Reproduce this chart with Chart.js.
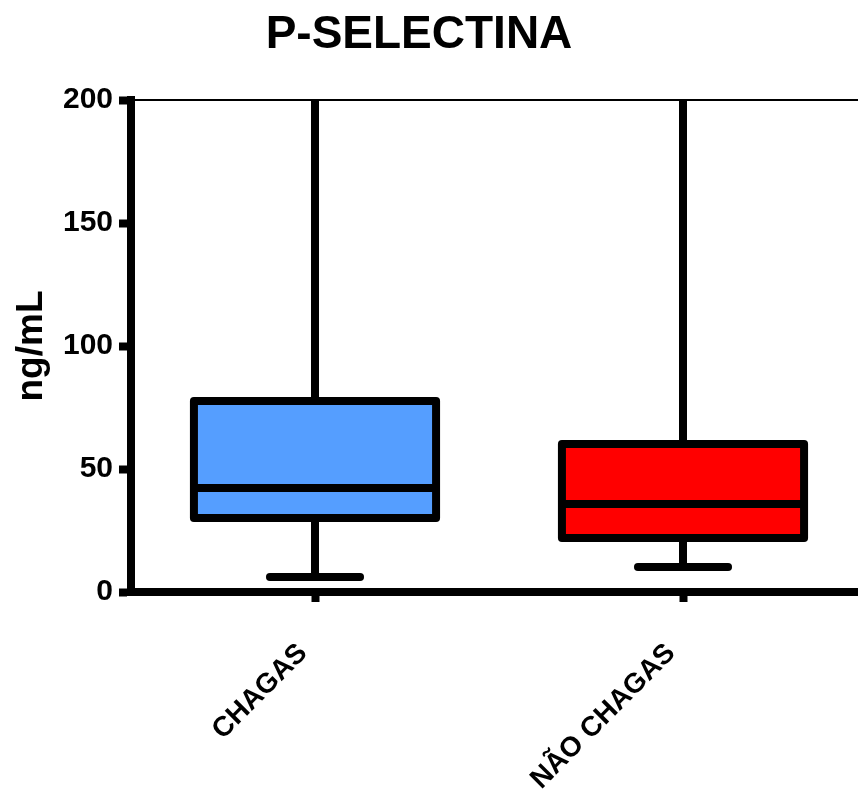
<!DOCTYPE html>
<html lang="pt">
<head>
<meta charset="utf-8">
<script src="https://cdn.jsdelivr.net/npm/chart.js@4.4.1/dist/chart.umd.min.js"></script>
<style>
  html, body { margin: 0; padding: 0; background: #fff; overflow: hidden; }
  #wrap { width: 868px; height: 798px; }
</style>
</head>
<body>
<div id="wrap"><canvas id="boxChart"></canvas></div>
<script>
// dados (ng/mL)
const categorias = ['CHAGAS', 'NÃO CHAGAS'];
const minimos = [6.1, 10.2];
const quartil1 = [30.1, 22.0];
const medianas = [42.3, 35.8];
const quartil3 = [77.6, 60.2];
const maximos = [200, 200];
const cores = ['#559EFF', '#FF0000'];
const yTicks = [0, 50, 100, 150, 200];

const fonte = '"Liberation Sans", Arial, sans-serif';
Chart.defaults.font.family = fonte;
Chart.defaults.color = '#000';

// bigodes, caixa e mediana por cima das barras flutuantes
const boxPlugin = {
  id: 'boxPlot',
  afterDatasetsDraw(chart) {
    const ctx = chart.ctx;
    const y = chart.scales.y;
    const meta = chart.getDatasetMeta(0);
    ctx.save();
    ctx.strokeStyle = '#000';
    ctx.lineWidth = 8;
    ctx.lineJoin = 'round';
    meta.data.forEach((bar, i) => {
      const x = bar.x;
      const half = bar.width / 2;
      const yMin = y.getPixelForValue(minimos[i]);
      const yQ1 = y.getPixelForValue(quartil1[i]);
      const yMed = y.getPixelForValue(medianas[i]);
      const yQ3 = y.getPixelForValue(quartil3[i]);
      const yMax = y.getPixelForValue(maximos[i]);
      ctx.lineCap = 'butt';
      ctx.beginPath();
      ctx.moveTo(x, yQ3); ctx.lineTo(x, yMax);
      ctx.moveTo(x, yQ1); ctx.lineTo(x, yMin);
      ctx.stroke();
      ctx.lineCap = 'round';
      ctx.beginPath();
      ctx.moveTo(x - bar.width * 0.186, yMin);
      ctx.lineTo(x + bar.width * 0.186, yMin);
      ctx.stroke();
      ctx.strokeRect(x - half, yQ3, bar.width, yQ1 - yQ3);
      ctx.lineCap = 'butt';
      ctx.beginPath();
      ctx.moveTo(x - half, yMed); ctx.lineTo(x + half, yMed);
      ctx.stroke();
    });
    ctx.restore();
  }
};

const tituloPlugin = {
  id: 'titulo',
  afterDraw(chart) {
    const ctx = chart.ctx;
    ctx.save();
    ctx.fillStyle = '#000';
    ctx.font = 'bold 46px ' + fonte;
    ctx.textAlign = 'center';
    ctx.textBaseline = 'alphabetic';
    ctx.fillText('P-SELECTINA', 419, 48);
    ctx.restore();
  }
};

const ctx = document.getElementById('boxChart').getContext('2d');
new Chart(ctx, {
  type: 'bar',
  data: {
    labels: categorias,
    datasets: [{
      data: categorias.map((c, i) => [quartil1[i], quartil3[i]]),
      backgroundColor: cores,
      borderWidth: 0,
      barPercentage: 0.658,
      categoryPercentage: 1
    }]
  },
  options: {
    responsive: true,
    maintainAspectRatio: false,
    animation: false,
    layout: { padding: { top: 100, right: 1, left: 0, bottom: 0 } },
    plugins: {
      legend: { display: false },
      tooltip: { enabled: false },
      title: { display: false }
    },
    scales: {
      x: {
        type: 'category',
        position: 'bottom',
        offset: true,
        grid: { drawOnChartArea: false, offset: false, tickLength: 10, tickWidth: 8, tickColor: '#000' },
        border: { display: true, color: '#000', width: 8 },
        ticks: { color: '#000', font: { size: 28, weight: 'bold' }, maxRotation: 45, minRotation: 45, padding: 35, labelOffset: -12 },
        afterFit(s) { s.height = 206; }
      },
      x2: {
        type: 'category',
        position: 'top',
        labels: categorias,
        offset: true,
        grid: { display: false },
        border: { display: true, color: '#000', width: 2 },
        ticks: { display: false },
        afterFit(s) { s.height = 0; }
      },
      y: {
        min: 0,
        max: 200,
        afterBuildTicks(s) { s.ticks = yTicks.map(v => ({ value: v })); },
        ticks: { color: '#000', font: { size: 30, weight: 'bold' }, padding: 6 },
        grid: { drawOnChartArea: false, tickLength: 12, tickWidth: 8, tickColor: '#000' },
        border: { color: '#000', width: 8 },
        title: { display: true, text: 'ng/mL', color: '#000', font: { size: 37, weight: 'bold' }, padding: { top: 10, bottom: 0 } },
        afterFit(s) { s.width = 131; }
      }
    }
  },
  plugins: [boxPlugin, tituloPlugin]
});
</script>
</body>
</html>
